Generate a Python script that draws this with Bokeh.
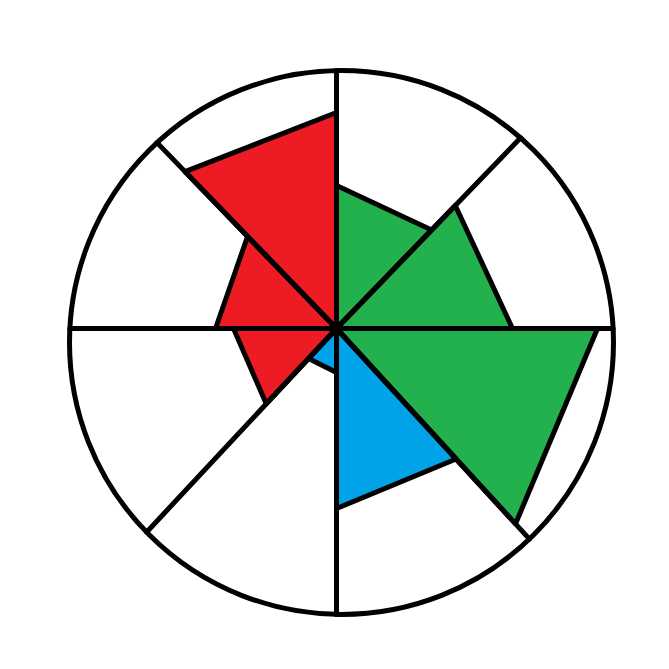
import numpy as np
from bokeh.plotting import figure
from bokeh.embed import file_html
from bokeh.resources import INLINE

# spokes, clockwise from the top (hand drawn, so not exactly 45 degrees apart)
spokes = ["N", "NE", "E", "SE", "S", "SW", "W", "NW"]
spoke_angles = [90, 46, 0, -47.5, -90, -133, 180, 134]

# each wedge runs from spoke k to spoke k+1
wedge_series = ["green", "green", "green", "blue", "blue", "red", "red", "red"]
r_start = [143, 171, 261, 177, 44, 103, 121, 218]
r_end = [137, 176, 265, 180, 41, 103, 128, 216]

colors = {"red": "#ED1C24", "green": "#22B14C", "blue": "#00A2E8"}

# outer ring (a little off the spoke centre)
ring_x, ring_y, ring_r = 5, -14, 272

p = figure(width=653, height=653, x_range=(-336, 317), y_range=(-325, 328),
           output_backend="svg", toolbar_location=None, min_border=0)
p.axis.visible = False
p.grid.visible = False
p.outline_line_color = None
p.background_fill_color = "white"

ang = np.radians(spoke_angles)

xs, ys, fills = [], [], []
for k in range(len(spokes)):
    a0 = ang[k]
    a1 = ang[(k + 1) % len(spokes)]
    xs.append([0, r_start[k] * np.cos(a0), r_end[k] * np.cos(a1)])
    ys.append([0, r_start[k] * np.sin(a0), r_end[k] * np.sin(a1)])
    fills.append(colors[wedge_series[k]])

p.patches(xs, ys, fill_color=fills, line_color="black", line_width=5,
          line_join="round")

# spokes run out to the ring
sx, sy = [], []
for a in ang:
    dx, dy = np.cos(a), np.sin(a)
    b = dx * ring_x + dy * ring_y
    t = b + np.sqrt(b * b - (ring_x ** 2 + ring_y ** 2 - ring_r ** 2))
    sx.append([0, t * dx])
    sy.append([0, t * dy])
p.multi_line(sx, sy, line_color="black", line_width=5, line_cap="round")

p.circle(x=[ring_x], y=[ring_y], radius=ring_r, fill_color=None,
         line_color="black", line_width=5)

open("out.html", "w").write(file_html(p, INLINE))
